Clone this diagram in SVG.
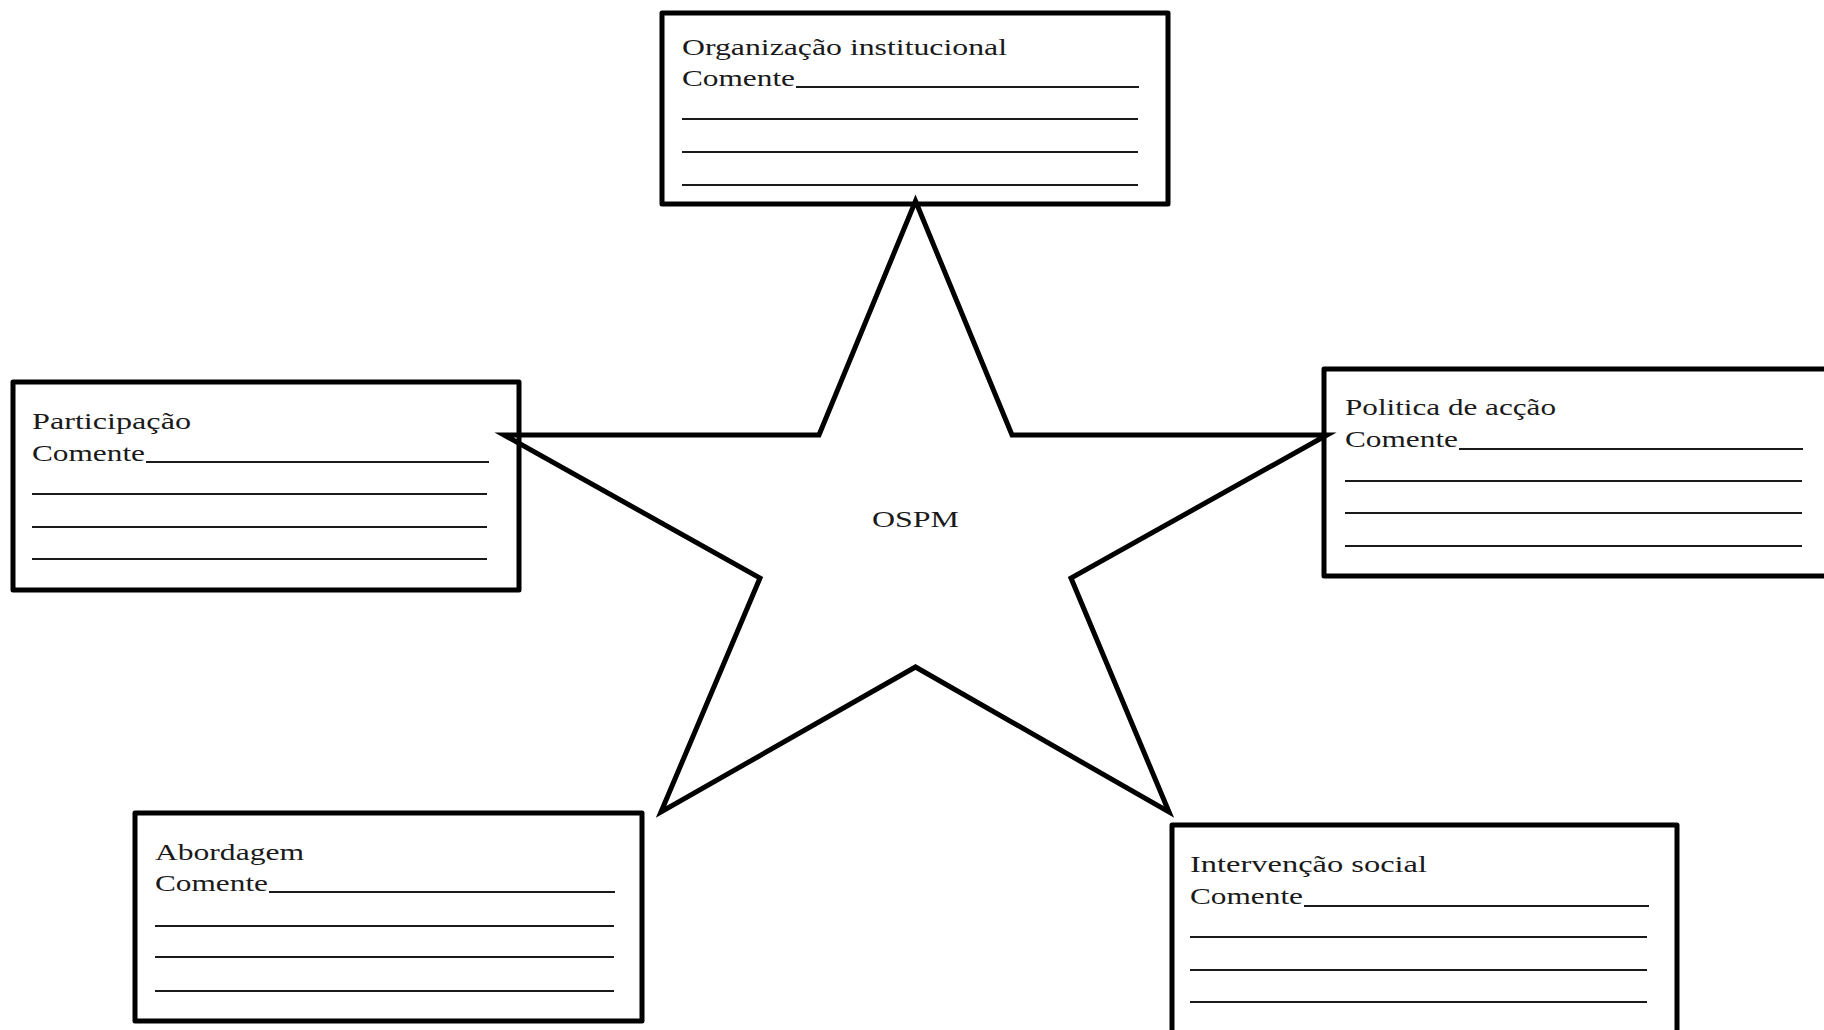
<svg xmlns="http://www.w3.org/2000/svg" width="1824" height="1030" viewBox="0 0 1824 1030">
<style>
.box{fill:none;stroke:#000;stroke-width:5;stroke-linejoin:round}
.rule{stroke:#1a1a1a;stroke-width:2}
.t{font-family:"Liberation Serif",serif;font-size:24px;fill:#1a1a1a}
.star{fill:none;stroke:#000;stroke-width:5;stroke-linejoin:miter;stroke-miterlimit:10}
</style>
<rect width="1824" height="1030" fill="#fff"/>
<g id="connectors">
<polygon class="star" points="915.5,201 1012,435 1327,435 1071,578 1169,812 915.5,667 661,812 760,578 504,435 819,435"/>
</g>
<g id="center">
<text class="t" x="872" y="527" textLength="87" lengthAdjust="spacingAndGlyphs">OSPM</text>
</g>
<g id="organizacao">
<rect class="box" x="662" y="13" width="506" height="191"/>
<text class="t" x="682" y="55" textLength="325" lengthAdjust="spacingAndGlyphs">Organização institucional</text>
<text class="t" x="682" y="86" textLength="113" lengthAdjust="spacingAndGlyphs">Comente</text>
<line class="rule" x1="796" y1="87" x2="1139" y2="87"/>
<line class="rule" x1="682" y1="119" x2="1138" y2="119"/>
<line class="rule" x1="682" y1="152" x2="1138" y2="152"/>
<line class="rule" x1="682" y1="185" x2="1138" y2="185"/>
</g>
<g id="participacao">
<rect class="box" x="13" y="382" width="506" height="208"/>
<text class="t" x="32" y="429" textLength="159" lengthAdjust="spacingAndGlyphs">Participação</text>
<text class="t" x="32" y="461" textLength="113" lengthAdjust="spacingAndGlyphs">Comente</text>
<line class="rule" x1="146" y1="462" x2="489" y2="462"/>
<line class="rule" x1="32" y1="494" x2="487" y2="494"/>
<line class="rule" x1="32" y1="527" x2="487" y2="527"/>
<line class="rule" x1="32" y1="559" x2="487" y2="559"/>
</g>
<g id="politica">
<rect class="box" x="1324" y="369" width="520" height="207"/>
<text class="t" x="1345" y="415" textLength="211" lengthAdjust="spacingAndGlyphs">Politica de acção</text>
<text class="t" x="1345" y="447" textLength="113" lengthAdjust="spacingAndGlyphs">Comente</text>
<line class="rule" x1="1459" y1="449" x2="1803" y2="449"/>
<line class="rule" x1="1345" y1="481" x2="1802" y2="481"/>
<line class="rule" x1="1345" y1="513" x2="1802" y2="513"/>
<line class="rule" x1="1345" y1="546" x2="1802" y2="546"/>
</g>
<g id="abordagem">
<rect class="box" x="135" y="813" width="507" height="208"/>
<text class="t" x="155" y="860" textLength="149" lengthAdjust="spacingAndGlyphs">Abordagem</text>
<text class="t" x="155" y="891" textLength="113" lengthAdjust="spacingAndGlyphs">Comente</text>
<line class="rule" x1="269" y1="892" x2="615" y2="892"/>
<line class="rule" x1="155" y1="926" x2="614" y2="926"/>
<line class="rule" x1="155" y1="957" x2="614" y2="957"/>
<line class="rule" x1="155" y1="991" x2="614" y2="991"/>
</g>
<g id="intervencao">
<rect class="box" x="1172" y="825" width="505" height="220"/>
<text class="t" x="1190" y="872" textLength="237" lengthAdjust="spacingAndGlyphs">Intervenção social</text>
<text class="t" x="1190" y="904" textLength="113" lengthAdjust="spacingAndGlyphs">Comente</text>
<line class="rule" x1="1304" y1="906" x2="1649" y2="906"/>
<line class="rule" x1="1190" y1="937" x2="1647" y2="937"/>
<line class="rule" x1="1190" y1="970" x2="1647" y2="970"/>
<line class="rule" x1="1190" y1="1002" x2="1647" y2="1002"/>
</g>
</svg>
